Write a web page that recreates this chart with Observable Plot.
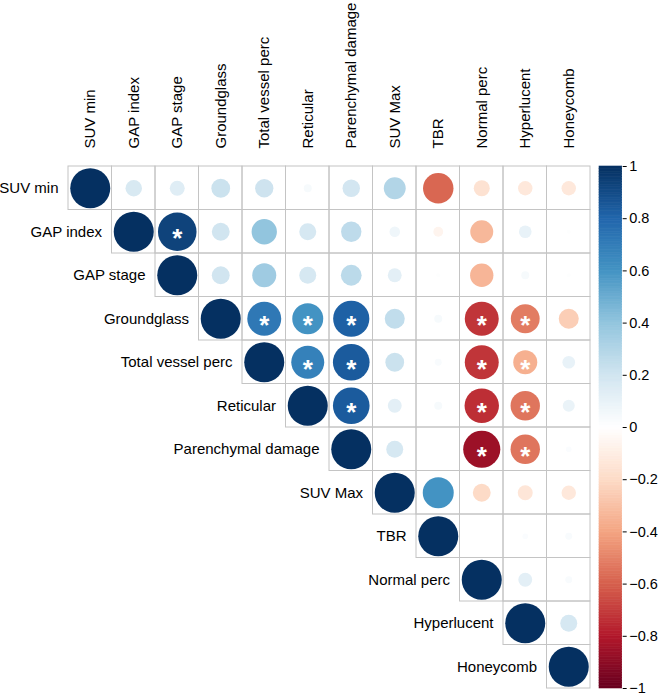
<!DOCTYPE html>
<html><head><meta charset="utf-8">
<script src="https://cdn.jsdelivr.net/npm/d3@7"></script>
<script src="https://cdn.jsdelivr.net/npm/@observablehq/plot@0.6"></script>
<style>
body{margin:0;background:#fff;}
#wrap{position:relative;width:658px;height:695px;overflow:hidden;}
#main{position:absolute;left:0;top:0;}
#bar{position:absolute;left:590px;top:0;}
</style>
</head><body>
<div id="wrap"><div id="main"></div><div id="bar"></div></div>
<script>
// Variables (rows/columns)
const vars = ["SUV min","GAP index","GAP stage","Groundglass","Total vessel perc","Reticular","Parenchymal damage","SUV Max","TBR","Normal perc","Hyperlucent","Honeycomb"];

// Upper-triangle correlations: row i holds values for columns i..11
const rowSUVmin      = [1, 0.17, 0.14, 0.22, 0.21, 0.04, 0.19, 0.30, -0.58, -0.16, -0.13, -0.13];
const rowGAPindex    = [1, 0.93, 0.20, 0.40, 0.18, 0.26, 0.07, -0.06, -0.33, 0.10, 0.01];
const rowGAPstage    = [1, 0.20, 0.36, 0.18, 0.27, 0.12, 0.01, -0.34, 0.04, 0.01];
const rowGroundglass = [1, 0.72, 0.60, 0.82, 0.25, 0.04, -0.72, -0.52, -0.25];
const rowTotalVessel = [1, 0.68, 0.84, 0.22, 0.03, -0.72, -0.36, 0.10];
const rowReticular   = [1, 0.84, 0.12, 0.04, -0.74, -0.54, 0.09];
const rowParenchymal = [1, 0.18, 0.00, -0.86, -0.54, 0.02];
const rowSUVMax      = [1, 0.60, -0.20, -0.14, -0.13];
const rowTBR         = [1, 0.00, 0.02, 0.03];
const rowNormal      = [1, 0.12, 0.03];
const rowHyperlucent = [1, 0.18];
const rowHoneycomb   = [1];
const upper = [rowSUVmin,rowGAPindex,rowGAPstage,rowGroundglass,rowTotalVessel,rowReticular,rowParenchymal,rowSUVMax,rowTBR,rowNormal,rowHyperlucent,rowHoneycomb];

// Significant pairs [row, col]
const significant = [[1,2],[3,4],[3,5],[3,6],[3,9],[3,10],[4,5],[4,6],[4,9],[4,10],[5,6],[5,9],[5,10],[6,9],[6,10]];

// Colour bar ticks
const barTicks = [-1,-0.8,-0.6,-0.4,-0.2,0,0.2,0.4,0.6,0.8,1];
const rdbu = ["#67001F","#B2182B","#D6604D","#F4A582","#FDDBC7","#FFFFFF","#D1E5F0","#92C5DE","#4393C3","#2166AC","#053061"];

const cells = [];
upper.forEach((row,i)=>row.forEach((v,k)=>{
  const j=i+k;
  cells.push({i, j, i2:i+1, j2:j+1, cx:j+0.5, cy:i+0.5, v, a:Math.abs(v),
    sig: significant.some(p=>p[0]===i&&p[1]===j)});
}));
const labels = vars.map((name,i)=>({name, i, c:i+0.5}));

const colorOpts = {type:"linear", domain: barTicks, range: rdbu, interpolate:"rgb"};
const font = "'Liberation Sans', Arial, Helvetica, sans-serif";

const main = Plot.plot({
  width: 592, height: 695,
  x:{domain:[0,12], range:[68,590], axis:null},
  y:{domain:[0,12], range:[166,688], axis:null},
  r:{type:"sqrt", domain:[0,1], range:[0,20]},
  color: colorOpts,
  style:{fontFamily:font, background:"#fff", overflow:"visible"},
  marks:[
    Plot.rect(cells,{x1:"j", x2:"j2", y1:"i", y2:"i2", stroke:"#c4c4c4", strokeWidth:1, fill:"none"}),
    Plot.dot(cells,{x:"cx", y:"cy", r:"a", fill:"v", stroke:null}),
    Plot.text(cells.filter(d=>d.sig),{x:"cx", y:"cy", text:()=>"*", fill:"white", fontSize:26, fontWeight:"bold", dy:7}),
    Plot.text(labels,{x:"i", y:"c", text:"name", textAnchor:"end", dx:-10, fontSize:15, fill:"black"}),
    Plot.text(labels,{x:"c", y:()=>0, text:"name", rotate:-90, textAnchor:"start", lineAnchor:"middle", dy:-18, fontSize:15, fill:"black"})
  ]
});
document.getElementById("main").appendChild(main);

const stops = d3.range(200).map(k=>({y1:-1+k*0.01, y2:-1+(k+1)*0.01, v:-1+(k+0.5)*0.01}));
const fmt = d => (d<0?"\u2212":"") + String(+Math.abs(d).toFixed(1));
const bar = Plot.plot({
  width: 68, height: 695,
  marginLeft: 9, marginRight: 36.3, marginTop: 166, marginBottom: 7,
  x:{domain:[0,1], axis:null},
  y:{domain:[-1,1], axis:null},
  color: colorOpts,
  style:{fontFamily:font, background:"transparent", overflow:"visible"},
  marks:[
    Plot.rect(stops,{x1:()=>0, x2:()=>1, y1:"y1", y2:"y2", fill:"v", stroke:"v", strokeWidth:0.6}),
    Plot.axisY({anchor:"right", ticks:barTicks, tickFormat:fmt, tickSize:4, tickPadding:3, fontSize:14.5, stroke:"black", color:"black"})
  ]
});
document.getElementById("bar").appendChild(bar);
</script>
</body></html>
